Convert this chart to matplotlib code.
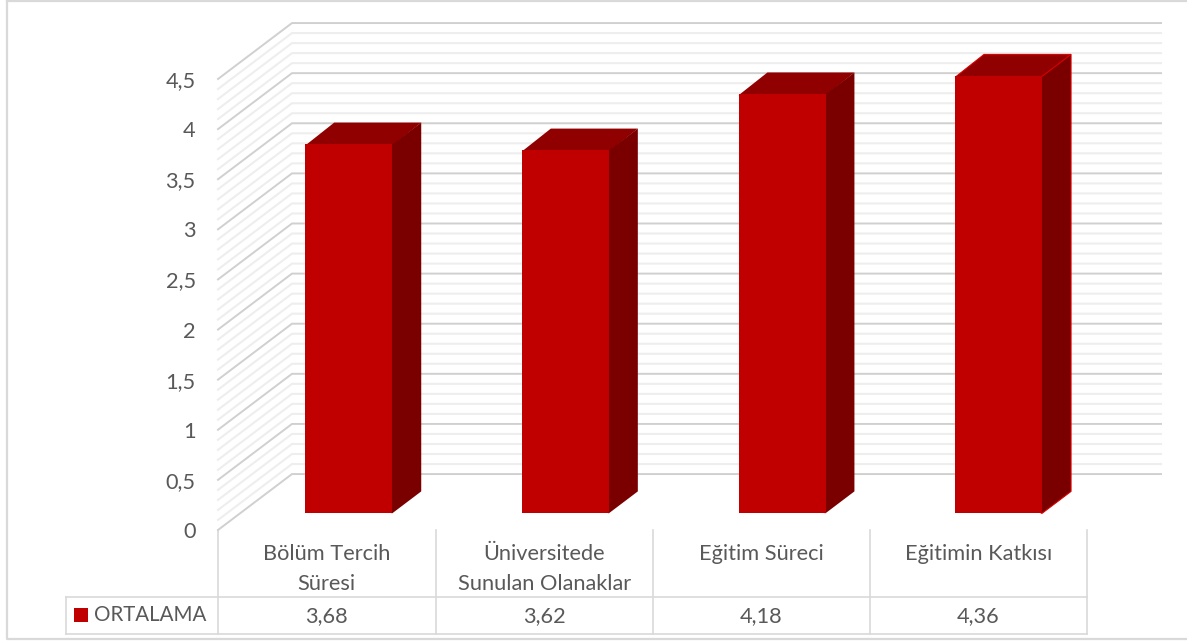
import matplotlib.pyplot as plt
from matplotlib.patches import Polygon, Rectangle

plt.rcParams['font.family'] = ['Lato', 'DejaVu Sans']

CATEGORIES = [['Bölüm Tercih', 'Süresi'], ['Üniversitede', 'Sunulan Olanaklar'], ['Eğitim Süreci'], ['Eğitimin Katkısı']]
VALUES = [3.68, 3.62, 4.18, 4.36]
SERIES = 'ORTALAMA'
YTICKS = [0, 0.5, 1, 1.5, 2, 2.5, 3, 3.5, 4, 4.5]
YTICK_LABELS = ['0', '0,5', '1', '1,5', '2', '2,5', '3', '3,5', '4', '4,5']

FRONT = '#c00000'
TOP = '#900000'
SIDE = '#7a0000'
TEXT = '#595959'
RULE = '#d9d9d9'
MAJOR = '#d0d0d0'
MINOR = '#eeeeee'

# fake 3d: depth of the floor in data units
DEPTH_X = 74 / 217.25
DEPTH_Y = 56 / 100.3
BAR_WIDTH = 87 / 217.25
BAR_START = 0.30
BAR_DEPTH = 0.39
BAR_STEP = 0.997

fig = plt.figure(figsize=(11.87, 6.41), dpi=100)

# page layer in pixels, frame and table rules
page = fig.add_axes([0, 0, 1, 1])
page.set_xlim(0, 1187)
page.set_ylim(641, 0)
page.axis('off')
page.plot([7, 7, 1187], [1, 639, 639], color=RULE, lw=1.6)
page.plot([7, 1187], [1, 1], color=RULE, lw=1.6)

columns = [218, 435.5, 653, 870, 1087]
for x in columns:
    page.plot([x, x], [530, 634], color=RULE, lw=1.2)
page.plot([66, 1087], [597, 597], color=RULE, lw=1.2)
page.plot([66, 1087], [634, 634], color=RULE, lw=1.2)
page.plot([66, 66], [597, 634], color=RULE, lw=1.2)

page.add_patch(Rectangle((74, 608), 14, 14, color=FRONT, lw=0))
page.text(94, 615, SERIES, color=TEXT, fontsize=14.8, va='center', ha='left')

for i, lines in enumerate(CATEGORIES):
    cx = (columns[i] + columns[i + 1]) / 2
    for j, line in enumerate(lines):
        page.text(cx, 554 + j * 29.5, line, color=TEXT, fontsize=15.7, va='center', ha='center')
    page.text(cx, 616, f'{VALUES[i]:.2f}'.replace('.', ','), color=TEXT, fontsize=15.7, va='center', ha='center')

# chart layer, front plane of the walls
ax = fig.add_axes([218 / 1187, (641 - 530) / 641, 869 / 1187, 451 / 641])
ax.patch.set_alpha(0)
ax.set_xlim(-0.5, 3.5)
ax.set_ylim(0, 4.5)
ax.set_xticks([])
ax.set_yticks(YTICKS)
ax.set_yticklabels(YTICK_LABELS, color=TEXT, fontsize=15.7)
ax.tick_params(axis='y', length=0, pad=16)
for s in ax.spines.values():
    s.set_visible(False)

for k in range(46):
    v = k / 10
    major = k % 5 == 0
    ax.plot([-0.5, -0.5 + DEPTH_X, 3.5 + DEPTH_X], [v, v + DEPTH_Y, v + DEPTH_Y],
            color=MAJOR if major else MINOR, lw=1.4 if major else 1.5,
            clip_on=False, solid_joinstyle='miter', zorder=2 if major else 1)

for i, v in enumerate(VALUES):
    x0 = i * BAR_STEP - 0.2 + BAR_START * DEPTH_X
    x1 = x0 + BAR_WIDTH
    y0 = BAR_START * DEPTH_Y
    y1 = y0 + v
    dx = BAR_DEPTH * DEPTH_X
    dy = BAR_DEPTH * DEPTH_Y
    edge = '#d80000' if i == 3 else 'none'
    ax.add_patch(Polygon([(x0, y1 - 0.01), (x1, y1 - 0.01), (x1 + dx, y1 + dy), (x0 + dx, y1 + dy)],
                         facecolor=TOP, edgecolor=edge, lw=0.8, clip_on=False, zorder=3))
    # side starts a little behind the front face so no seam shows
    ax.add_patch(Polygon([(x1 - 0.005, y0), (x1, y0), (x1 + dx, y0 + dy), (x1 + dx, y1 + dy), (x1, y1), (x1 - 0.005, y1)],
                         facecolor=SIDE, edgecolor=edge, lw=0.8, clip_on=False, zorder=3))
    ax.add_patch(Rectangle((x0, y0), BAR_WIDTH, v, facecolor=FRONT, edgecolor='none', clip_on=False, zorder=4))

fig.savefig('out.png', dpi=100)
